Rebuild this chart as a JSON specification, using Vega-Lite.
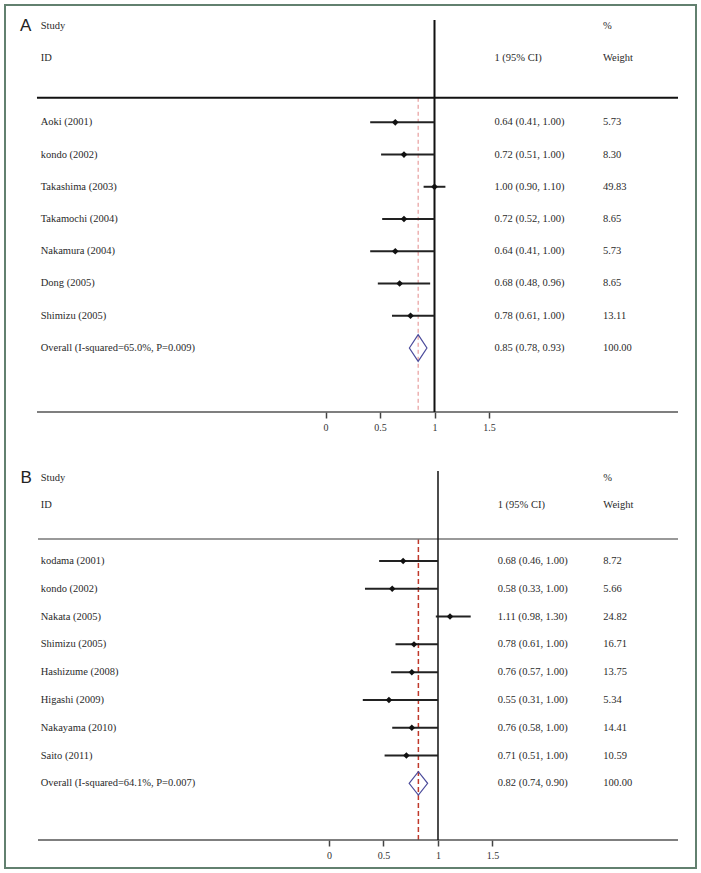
{
  "$schema": "https://vega.github.io/schema/vega-lite/v6.json",
  "autosize": {"type": "fit", "contains": "padding"},
  "width": 701,
  "height": 873,
  "padding": 5,
  "background": "#ffffff",
  "config": {
    "view": {"stroke": "#62806f", "strokeWidth": 2},
    "text": {"font": "Liberation Serif", "fontSize": 10.5, "color": "#2a2a2a"}
  },
  "datasets": {
    "A": [
      {"row": 1, "panel": "A", "study": "Study", "w": "%", "kind": "header"},
      {"row": 2, "study": "ID", "ci": "1 (95% CI)", "w": "Weight", "kind": "header"},
      {"row": 4, "study": "Aoki (2001)", "est": 0.64, "lo": 0.41, "hi": 1.00, "ci": "0.64 (0.41, 1.00)", "w": "5.73", "kind": "study"},
      {"row": 5, "study": "kondo (2002)", "est": 0.72, "lo": 0.51, "hi": 1.00, "ci": "0.72 (0.51, 1.00)", "w": "8.30", "kind": "study"},
      {"row": 6, "study": "Takashima (2003)", "est": 1.00, "lo": 0.90, "hi": 1.10, "ci": "1.00 (0.90, 1.10)", "w": "49.83", "kind": "study"},
      {"row": 7, "study": "Takamochi (2004)", "est": 0.72, "lo": 0.52, "hi": 1.00, "ci": "0.72 (0.52, 1.00)", "w": "8.65", "kind": "study"},
      {"row": 8, "study": "Nakamura (2004)", "est": 0.64, "lo": 0.41, "hi": 1.00, "ci": "0.64 (0.41, 1.00)", "w": "5.73", "kind": "study"},
      {"row": 9, "study": "Dong (2005)", "est": 0.68, "lo": 0.48, "hi": 0.96, "ci": "0.68 (0.48, 0.96)", "w": "8.65", "kind": "study"},
      {"row": 10, "study": "Shimizu (2005)", "est": 0.78, "lo": 0.61, "hi": 1.00, "ci": "0.78 (0.61, 1.00)", "w": "13.11", "kind": "study"},
      {"row": 11, "study": "Overall (I-squared=65.0%, P=0.009)", "est": 0.85, "lo": 0.78, "hi": 0.93, "ci": "0.85 (0.78, 0.93)", "w": "100.00", "kind": "overall"}
    ],
    "B": [
      {"row": 1, "panel": "B", "study": "Study", "w": "%", "kind": "header"},
      {"row": 2, "study": "ID", "ci": "1 (95% CI)", "w": "Weight", "kind": "header"},
      {"row": 4, "study": "kodama (2001)", "est": 0.68, "lo": 0.46, "hi": 1.00, "ci": "0.68 (0.46, 1.00)", "w": "8.72", "kind": "study"},
      {"row": 5, "study": "kondo (2002)", "est": 0.58, "lo": 0.33, "hi": 1.00, "ci": "0.58 (0.33, 1.00)", "w": "5.66", "kind": "study"},
      {"row": 6, "study": "Nakata (2005)", "est": 1.11, "lo": 0.98, "hi": 1.30, "ci": "1.11 (0.98, 1.30)", "w": "24.82", "kind": "study"},
      {"row": 7, "study": "Shimizu (2005)", "est": 0.78, "lo": 0.61, "hi": 1.00, "ci": "0.78 (0.61, 1.00)", "w": "16.71", "kind": "study"},
      {"row": 8, "study": "Hashizume (2008)", "est": 0.76, "lo": 0.57, "hi": 1.00, "ci": "0.76 (0.57, 1.00)", "w": "13.75", "kind": "study"},
      {"row": 9, "study": "Higashi (2009)", "est": 0.55, "lo": 0.31, "hi": 1.00, "ci": "0.55 (0.31, 1.00)", "w": "5.34", "kind": "study"},
      {"row": 10, "study": "Nakayama (2010)", "est": 0.76, "lo": 0.58, "hi": 1.00, "ci": "0.76 (0.58, 1.00)", "w": "14.41", "kind": "study"},
      {"row": 11, "study": "Saito (2011)", "est": 0.71, "lo": 0.51, "hi": 1.00, "ci": "0.71 (0.51, 1.00)", "w": "10.59", "kind": "study"},
      {"row": 12, "study": "Overall (I-squared=64.1%, P=0.007)", "est": 0.82, "lo": 0.74, "hi": 0.90, "ci": "0.82 (0.74, 0.90)", "w": "100.00", "kind": "overall"}
    ]
  },
  "layer": [
    {
      "data": {"name": "A"},
      "layer": [
        {
          "transform": [{"filter": "datum.kind === 'overall'"}],
          "mark": {"type": "rule", "color": "#e38a8a", "strokeWidth": 1, "strokeDash": [4, 3]},
          "encoding": {
            "x": {"field": "est", "type": "quantitative",
              "scale": {"domain": [-2.9404, 3.3991], "nice": false, "zero": false},
              "axis": {"orient": "bottom", "offset": -456, "values": [0, 0.5, 1, 1.5], "format": "~g", "domain": false, "grid": false, "title": null,
                "tickSize": 6, "tickWidth": 1.5, "tickColor": "#444444", "labelFont": "Liberation Serif", "labelFontSize": 10, "labelColor": "#333333", "labelPadding": 4}},
            "y": {"datum": 3.24, "type": "quantitative",
              "scale": {"domain": [0.362, 27.129], "nice": false, "zero": false, "reverse": true}, "axis": null},
            "y2": {"datum": 12.986}
          }
        },
        {
          "transform": [{"filter": "datum.kind === 'overall'"}],
          "mark": {"type": "rule", "color": "#111111", "strokeWidth": 2},
          "encoding": {
            "x": {"datum": -2.647, "type": "quantitative"},
            "x2": {"datum": 3.234},
            "y": {"datum": 3.237, "type": "quantitative", "axis": null}
          }
        },
        {
          "transform": [{"filter": "datum.kind === 'overall'"}],
          "mark": {"type": "rule", "color": "#555555", "strokeWidth": 1.5},
          "encoding": {
            "x": {"datum": -2.647, "type": "quantitative"},
            "x2": {"datum": 3.234},
            "y": {"datum": 12.986, "type": "quantitative", "axis": null}
          }
        },
        {
          "transform": [{"filter": "datum.kind === 'overall'"}],
          "mark": {"type": "rule", "color": "#111111", "strokeWidth": 2},
          "encoding": {
            "x": {"datum": 1, "type": "quantitative"},
            "y": {"datum": 0.827, "type": "quantitative", "axis": null},
            "y2": {"datum": 12.986}
          }
        },
        {
          "transform": [{"filter": "datum.kind === 'study'"}],
          "mark": {"type": "rule", "color": "#222222", "strokeWidth": 2},
          "encoding": {
            "x": {"field": "lo", "type": "quantitative"},
            "x2": {"field": "hi"},
            "y": {"field": "row", "type": "quantitative", "axis": null}
          }
        },
        {
          "transform": [{"filter": "datum.kind === 'study'"}],
          "mark": {"type": "point", "shape": "diamond", "filled": true, "color": "#111111", "size": 45, "opacity": 1},
          "encoding": {
            "x": {"field": "est", "type": "quantitative"},
            "y": {"field": "row", "type": "quantitative", "axis": null}
          }
        },
        {
          "transform": [{"filter": "datum.kind === 'overall'"}],
          "mark": {"type": "point", "shape": "M-0.66,0L0,-1L0.66,0L0,1Z", "filled": false, "stroke": "#4b4b9b", "strokeWidth": 1.2, "size": 708, "opacity": 1},
          "encoding": {
            "x": {"field": "est", "type": "quantitative"},
            "y": {"field": "row", "type": "quantitative", "axis": null}
          }
        },
        {
          "transform": [{"filter": "isValid(datum.panel)"}],
          "mark": {"type": "text", "align": "left", "baseline": "middle", "font": "Liberation Sans", "fontSize": 17, "color": "#222222"},
          "encoding": {
            "x": {"datum": -2.803, "type": "quantitative"},
            "y": {"field": "row", "type": "quantitative", "axis": null},
            "text": {"field": "panel"}
          }
        },
        {
          "transform": [{"filter": "isValid(datum.study)"}],
          "mark": {"type": "text", "align": "left", "baseline": "middle"},
          "encoding": {
            "x": {"datum": -2.613, "type": "quantitative"},
            "y": {"field": "row", "type": "quantitative", "axis": null},
            "text": {"field": "study"}
          }
        },
        {
          "transform": [{"filter": "isValid(datum.ci)"}],
          "mark": {"type": "text", "align": "left", "baseline": "middle"},
          "encoding": {
            "x": {"datum": 1.55, "type": "quantitative"},
            "y": {"field": "row", "type": "quantitative", "axis": null},
            "text": {"field": "ci"}
          }
        },
        {
          "transform": [{"filter": "isValid(datum.w)"}],
          "mark": {"type": "text", "align": "left", "baseline": "middle"},
          "encoding": {
            "x": {"datum": 2.545, "type": "quantitative"},
            "y": {"field": "row", "type": "quantitative", "axis": null},
            "text": {"field": "w"}
          }
        }
      ]
    },
    {
      "data": {"name": "B"},
      "layer": [
        {
          "transform": [{"filter": "datum.kind === 'overall'"}],
          "mark": {"type": "rule", "color": "#c0392b", "strokeWidth": 1.5, "strokeDash": [5, 3]},
          "encoding": {
            "x": {"field": "est", "type": "quantitative",
              "scale": {"domain": [-2.9725, 3.367], "nice": false, "zero": false},
              "axis": {"orient": "bottom", "offset": -28, "values": [0, 0.5, 1, 1.5], "format": "~g", "domain": false, "grid": false, "title": null,
                "tickSize": 6, "tickWidth": 1.5, "tickColor": "#444444", "labelFont": "Liberation Serif", "labelFontSize": 10, "labelColor": "#333333", "labelPadding": 4}},
            "y": {"datum": 3.21, "type": "quantitative",
              "scale": {"domain": [-16.007, 15.047], "nice": false, "zero": false, "reverse": true}, "axis": null},
            "y2": {"datum": 14.04}
          }
        },
        {
          "transform": [{"filter": "datum.kind === 'overall'"}],
          "mark": {"type": "rule", "color": "#777777", "strokeWidth": 1.5},
          "encoding": {
            "x": {"datum": -2.67, "type": "quantitative"},
            "x2": {"datum": 3.202},
            "y": {"datum": 3.208, "type": "quantitative", "axis": null}
          }
        },
        {
          "transform": [{"filter": "datum.kind === 'overall'"}],
          "mark": {"type": "rule", "color": "#555555", "strokeWidth": 1.5},
          "encoding": {
            "x": {"datum": -2.67, "type": "quantitative"},
            "x2": {"datum": 3.202},
            "y": {"datum": 14.04, "type": "quantitative", "axis": null}
          }
        },
        {
          "transform": [{"filter": "datum.kind === 'overall'"}],
          "mark": {"type": "rule", "color": "#111111", "strokeWidth": 1.5},
          "encoding": {
            "x": {"datum": 1, "type": "quantitative"},
            "y": {"datum": 0.761, "type": "quantitative", "axis": null},
            "y2": {"datum": 14.04}
          }
        },
        {
          "transform": [{"filter": "datum.kind === 'study'"}],
          "mark": {"type": "rule", "color": "#222222", "strokeWidth": 2},
          "encoding": {
            "x": {"field": "lo", "type": "quantitative"},
            "x2": {"field": "hi"},
            "y": {"field": "row", "type": "quantitative", "axis": null}
          }
        },
        {
          "transform": [{"filter": "datum.kind === 'study'"}],
          "mark": {"type": "point", "shape": "diamond", "filled": true, "color": "#111111", "size": 42, "opacity": 1},
          "encoding": {
            "x": {"field": "est", "type": "quantitative"},
            "y": {"field": "row", "type": "quantitative", "axis": null}
          }
        },
        {
          "transform": [{"filter": "datum.kind === 'overall'"}],
          "mark": {"type": "point", "shape": "M-0.79,0L0,-1L0.79,0L0,1Z", "filled": false, "stroke": "#4b4b9b", "strokeWidth": 1.2, "size": 548, "opacity": 1},
          "encoding": {
            "x": {"field": "est", "type": "quantitative"},
            "y": {"field": "row", "type": "quantitative", "axis": null}
          }
        },
        {
          "transform": [{"filter": "isValid(datum.panel)"}],
          "mark": {"type": "text", "align": "left", "baseline": "middle", "font": "Liberation Sans", "fontSize": 17, "color": "#222222"},
          "encoding": {
            "x": {"datum": -2.83, "type": "quantitative"},
            "y": {"field": "row", "type": "quantitative", "axis": null},
            "text": {"field": "panel"}
          }
        },
        {
          "transform": [{"filter": "isValid(datum.study)"}],
          "mark": {"type": "text", "align": "left", "baseline": "middle"},
          "encoding": {
            "x": {"datum": -2.645, "type": "quantitative"},
            "y": {"field": "row", "type": "quantitative", "axis": null},
            "text": {"field": "study"}
          }
        },
        {
          "transform": [{"filter": "isValid(datum.ci)"}],
          "mark": {"type": "text", "align": "left", "baseline": "middle"},
          "encoding": {
            "x": {"datum": 1.548, "type": "quantitative"},
            "y": {"field": "row", "type": "quantitative", "axis": null},
            "text": {"field": "ci"}
          }
        },
        {
          "transform": [{"filter": "isValid(datum.w)"}],
          "mark": {"type": "text", "align": "left", "baseline": "middle"},
          "encoding": {
            "x": {"datum": 2.517, "type": "quantitative"},
            "y": {"field": "row", "type": "quantitative", "axis": null},
            "text": {"field": "w"}
          }
        }
      ]
    }
  ],
  "resolve": {"scale": {"x": "independent", "y": "independent"}, "axis": {"x": "independent", "y": "independent"}}
}
